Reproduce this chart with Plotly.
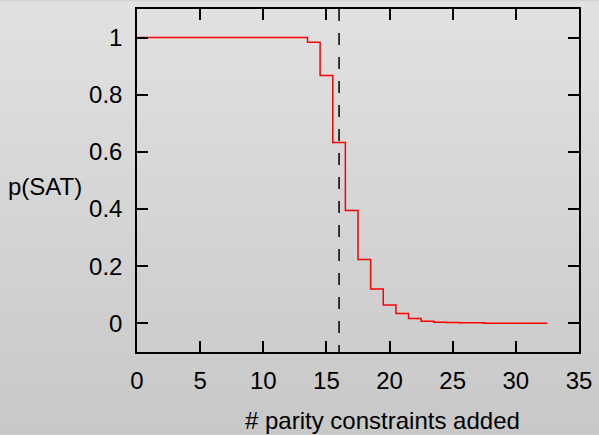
import plotly.graph_objects as go

# data
constraints = list(range(0, 33))
p_sat = [1.0] * 14 + [0.984, 0.867, 0.633, 0.395, 0.224, 0.12, 0.064, 0.035,
                      0.017, 0.008, 0.0045, 0.003, 0.002, 0.002, 0.001, 0.001,
                      0.001, 0.001, 0.001]
threshold = 16
x_ticks = [0, 5, 10, 15, 20, 25, 30, 35]
y_ticks = [0, 0.2, 0.4, 0.6, 0.8, 1]
y_tick_text = ["0", "0.2", "0.4", "0.6", "0.8", "1"]

# histogram-style steps: extend last bin by half width
xs = constraints + [constraints[-1] + 0.5]
ys = p_sat + [p_sat[-1]]

W, H = 599, 435
ml, mr, mt, mb = 137, 18, 7, 83
ph = H - mt - mb
pw = W - ml - mr

fig = go.Figure()
fig.add_trace(go.Scatter(x=xs, y=ys, mode="lines", line=dict(color="red", width=1.5, shape="hvh"),
                         showlegend=False, hoverinfo="skip"))

shapes = []
# vertical gradient background
n = 60
y_bot = -mb / ph
y_top = 1 + mt / ph
c_top, c_bot = 225, 200
for i in range(n):
    f0 = i / n
    f1 = (i + 1) / n
    c = round(c_bot + (c_top - c_bot) * (i + 0.5) / n)
    shapes.append(dict(type="rect", xref="paper", yref="paper", layer="below",
                       x0=-ml / pw - 0.01, x1=1 + mr / pw + 0.01,
                       y0=y_bot + (y_top - y_bot) * f0, y1=y_bot + (y_top - y_bot) * f1 + 0.002,
                       fillcolor=f"rgb({c},{c},{c})", line=dict(width=0)))
shapes.append(dict(type="line", xref="x", yref="paper", x0=threshold, x1=threshold, y0=1, y1=0,
                   line=dict(color="black", width=1.5, dash="12px,12px")))

font = dict(family="Liberation Sans, Arial, sans-serif", size=24, color="black")

fig.update_layout(
    width=W, height=H,
    margin=dict(l=ml, r=mr, t=mt, b=mb),
    paper_bgcolor="rgb(212,212,212)",
    plot_bgcolor="rgba(0,0,0,0)",
    font=font,
    shapes=shapes,
    annotations=[
        dict(text="p(SAT)", xref="paper", yref="paper", x=(5 - ml) / pw, y=(352 - 186) / ph,
             xanchor="left", yanchor="middle", showarrow=False, font=font),
        dict(text="# parity constraints added", xref="paper", yref="paper", x=(384 - ml) / pw,
             y=(352 - 421) / ph, xanchor="center", yanchor="middle", showarrow=False, font=font),
    ],
)
fig.update_xaxes(range=[0, 35], tickvals=x_ticks, ticks="inside", ticklen=11, tickwidth=1.5,
                 tickcolor="black", showline=True, linecolor="black", linewidth=1.5, mirror="ticks",
                 showgrid=False, zeroline=False, ticklabelstandoff=6)
fig.update_yaxes(range=[-0.1, 1.1], tickvals=y_ticks, ticktext=y_tick_text, ticks="inside", ticklen=11,
                 tickwidth=1.5, tickcolor="black", showline=True, linecolor="black", linewidth=1.5,
                 mirror="ticks", showgrid=False, zeroline=False, ticklabelstandoff=8)

fig.write_html("out.html", config={"displayModeBar": False},
               post_script="document.body.style.margin='0';document.body.style.overflow='hidden';")
